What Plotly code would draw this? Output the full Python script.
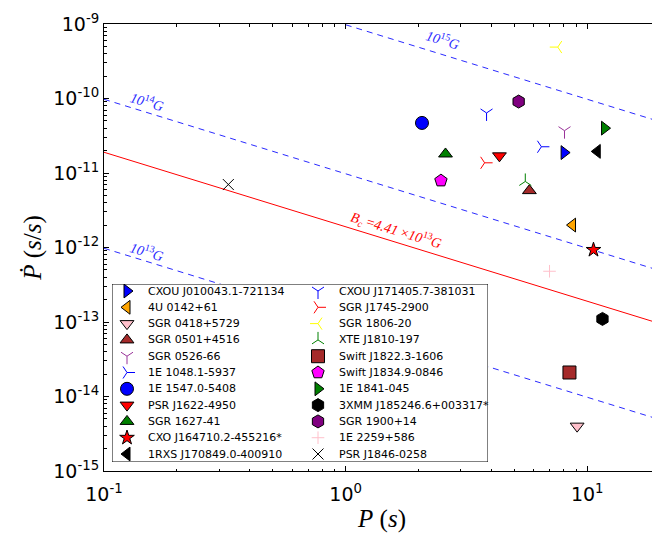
import numpy as np
import plotly.graph_objects as go

# ---------------- data ----------------
names = [
    "CXOU J010043.1-721134", "4U 0142+61", "SGR 0418+5729", "SGR 0501+4516",
    "SGR 0526-66", "1E 1048.1-5937", "1E 1547.0-5408", "PSR J1622-4950",
    "SGR 1627-41", "CXO J164710.2-455216*", "1RXS J170849.0-400910",
    "CXOU J171405.7-381031", "SGR J1745-2900", "SGR 1806-20", "XTE J1810-197",
    "Swift J1822.3-1606", "Swift J1834.9-0846", "1E 1841-045",
    "3XMM J185246.6+003317*", "SGR 1900+14", "1E 2259+586", "PSR J1846-0258",
]
period = [8.02, 8.69, 9.08, 5.76, 8.05, 6.46, 2.07, 4.33, 2.59, 10.61, 11.0,
          3.83, 3.76, 7.55, 5.54, 8.44, 2.48, 11.79, 11.56, 5.20, 6.98, 0.327]
pdot = [1.88e-11, 2.0e-12, 4.0e-15, 5.8e-12, 3.7e-11, 2.25e-11, 4.7e-11, 1.7e-11,
        1.8e-11, 9.3e-13, 1.95e-11, 6.4e-11, 1.37e-11, 4.9e-10, 7.7e-12, 2.1e-14,
        7.9e-12, 4.0e-11, 1.1e-13, 9.1e-11, 4.8e-13, 7.0e-12]
symbols = ["triangle-right", "triangle-left", "triangle-down", "triangle-up",
           "y-down", "y-right", "circle", "triangle-down", "triangle-up", "star",
           "triangle-left", "y-down", "y-right", "y-left", "y-up", "square",
           "pentagon", "triangle-right", "hexagon", "hexagon", "cross-thin", "x-thin"]
colors = ["#0000ff", "#ffa500", "#ffc0cb", "#a52a2a", "#993399", "#0000ff",
          "#0000ff", "#ff0000", "#008000", "#ff0000", "#000000", "#0000ff",
          "#ff0000", "#ffff00", "#008000", "#a52a2a", "#ff00ff", "#008000",
          "#000000", "#800080", "#ffc0cb", "#000000"]

# magnetic field lines: B = 3.2e19 * sqrt(P * Pdot)
b_fields = [1e13, 1e14, 1e15]
b_crit = 4.41e13
p_line = [0.1, 20.0]

x_tickvals = [0.1, 1, 10]
x_ticktext = ["10<sup>-1</sup>", "10<sup>0</sup>", "10<sup>1</sup>"]
y_tickvals = [1e-9, 1e-10, 1e-11, 1e-12, 1e-13, 1e-14, 1e-15]
y_ticktext = ["10<sup>-9</sup>", "10<sup>-10</sup>", "10<sup>-11</sup>", "10<sup>-12</sup>",
              "10<sup>-13</sup>", "10<sup>-14</sup>", "10<sup>-15</sup>"]

# ---------------- styles ----------------
def marker_style(sym, col):
    if sym.startswith("y-"):
        return dict(symbol=sym, size=10, color=col, line=dict(color=col, width=1))
    if sym == "cross-thin":
        return dict(symbol=sym, size=9, color=col, line=dict(color=col, width=1))
    if sym == "x-thin":
        return dict(symbol=sym, size=11, color=col, line=dict(color=col, width=1))
    if sym == "star":
        return dict(symbol=sym, size=11, color=col, line=dict(color="black", width=1))
    size = 12 if sym.startswith("triangle") else 13
    return dict(symbol=sym, size=size, color=col, line=dict(color="black", width=1))

fig = go.Figure()

def line_pdot(B, P):
    return [(B / 3.2e19) ** 2 / p for p in P]

for B in b_fields:
    fig.add_trace(go.Scatter(x=p_line, y=line_pdot(B, p_line), mode="lines",
                             line=dict(color="#2a2aff", width=1, dash="6px,5px"),
                             showlegend=False, hoverinfo="skip"))
fig.add_trace(go.Scatter(x=p_line, y=line_pdot(b_crit, p_line), mode="lines",
                         line=dict(color="#ff0000", width=1),
                         showlegend=False, hoverinfo="skip"))

for n, p, pd_, s, c in zip(names, period, pdot, symbols, colors):
    fig.add_trace(go.Scatter(x=[p], y=[pd_], mode="markers", name=n,
                             marker=marker_style(s, c), showlegend=False))

# ---------------- legend box (drawn on hidden helper axes) ----------------
nrows = 11
box_w = 376
y_top, y_bot = -0.43, 10.49
fig.add_trace(go.Scatter(x=[0, box_w, box_w, 0, 0], y=[y_bot, y_bot, y_top, y_top, y_bot],
                         xaxis="x2", yaxis="y2", mode="lines", fill="toself",
                         fillcolor="white", line=dict(color="black", width=1),
                         showlegend=False, hoverinfo="skip"))
for i, (n, s, c) in enumerate(zip(names, symbols, colors)):
    col, row = divmod(i, nrows)
    fig.add_trace(go.Scatter(x=[15 + 191 * col], y=[row], xaxis="x2", yaxis="y2",
                             mode="markers", marker=marker_style(s, c),
                             showlegend=False, hoverinfo="skip"))
    fig.add_annotation(x=34 + 191 * col, y=row, xref="x2", yref="y2", text=n,
                       showarrow=False, xanchor="left", yanchor="middle",
                       font=dict(family="DejaVu Sans", size=11, color="black"))

# ---------------- line labels ----------------
lab_font = dict(family="Liberation Serif", size=14)
labels = [
    ("<i>10</i><sup>15</sup><i>G</i>", 0.401, -9.20, "#2a2aff"),
    ("<i>10</i><sup>14</sup><i>G</i>", -0.822, -10.04, "#2a2aff"),
    ("<i>10</i><sup>13</sup><i>G</i>", -0.822, -12.05, "#2a2aff"),
    ("<i>B<sub>c</sub></i> =<i>4.41</i> ×<i>10</i><sup>13</sup><i>G</i>", 0.207, -11.77, "#ff0000"),
]
for t, lx, ly, c in labels:
    fig.add_annotation(x=lx, y=ly, xref="x", yref="y", text=t, showarrow=False,
                       textangle=17, font=dict(color=c, **lab_font))

axis_common = dict(showline=True, linecolor="black", linewidth=1, mirror="allticks",
                   ticks="inside", ticklen=5, tickcolor="black", showgrid=False,
                   zeroline=False, automargin=False,
                   minor=dict(ticks="inside", ticklen=2.5, tickcolor="black",
                              dtick="D1", showgrid=False),
                   tickfont=dict(family="DejaVu Sans", size=19, color="black"))

# the page body adds an 8px offset, so the figure is drawn 8px smaller
fig.update_layout(
    width=652, height=525,
    margin=dict(l=96, r=0, t=16, b=62),
    paper_bgcolor="white", plot_bgcolor="white",
    showlegend=False,
    xaxis=dict(type="log", range=[-1, np.log10(20)], tickvals=x_tickvals,
               ticktext=x_ticktext, ticklabelstandoff=6,
               title=dict(text="<i>P</i> (<i>s</i>)", standoff=0,
                          font=dict(family="Liberation Serif", size=25, color="black")),
               **axis_common),
    yaxis=dict(type="log", range=[-15, -9], tickvals=y_tickvals, ticktext=y_ticktext,
               title=dict(text="<i>Ṗ</i> (<i>s</i>/<i>s</i>)", standoff=4,
                          font=dict(family="Liberation Serif", size=25, color="black")),
               **axis_common),
    xaxis2=dict(domain=[8 / 556, 384 / 556], range=[0, box_w], anchor="y2",
                visible=False, fixedrange=True),
    yaxis2=dict(domain=[9 / 447, 187 / 447], range=[y_bot, y_top], anchor="x2",
                visible=False, fixedrange=True),
)

fig.write_html("out.html")
